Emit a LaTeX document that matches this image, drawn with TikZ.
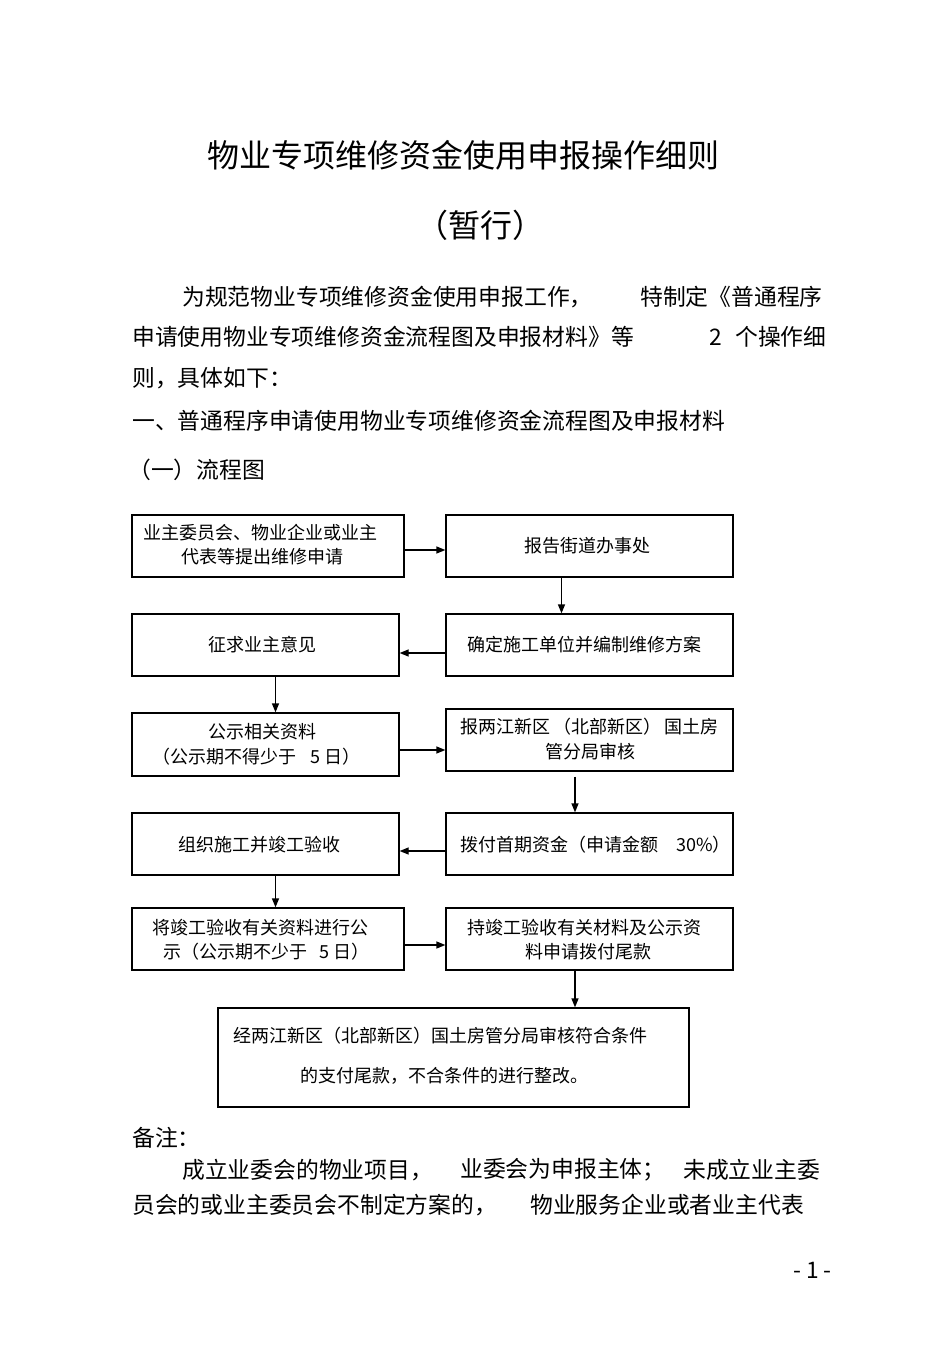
\documentclass[tikz,border=0pt]{standalone}
\usepackage{fontspec}
\setmainfont{Noto Sans CJK SC}
\usetikzlibrary{arrows.meta}
\tikzset{
  box/.style={draw=black, line width=1.3pt, rectangle, inner sep=0pt},
  arr/.style={line width=1.3pt, -{Triangle[length=9pt,width=7pt]}},
  txt/.style={anchor=west, inner sep=0pt, font=\fontsize{18}{22}\selectfont},
  body/.style={anchor=west, inner sep=0pt, font=\fontsize{22.8}{26}\selectfont},
  ttl/.style={inner sep=0pt, font=\fontsize{32}{36}\selectfont}
}
\begin{document}
\begin{tikzpicture}[x=1pt,y=-1pt]
\useasboundingbox[fill=white] (0,0) rectangle (950,1346);

% title
\node[ttl, anchor=west] (title) at (207,155) {物业专项维修资金使用申报操作细则};
\node[ttl] (subtitle) at (480,225) {（暂行）};

% paragraph
\node[body] (p1a) at (182,297) {为规范物业专项维修资金使用申报工作，};
\node[body] (p1b) at (640,297) {特制定《普通程序};
\node[body] (p2a) at (132,337) {申请使用物业专项维修资金流程图及申报材料》等};
\node[body] (p2b) at (709,337) {2};
\node[body] (p2c) at (735,337) {个操作细};
\node[body] (p3) at (132,378) {则，具体如下：};
\node[body] (p4) at (132,421) {一、普通程序申请使用物业专项维修资金流程图及申报材料};
\node[body] (p5) at (128,470) {（一）流程图};

% boxes
\node[box, minimum width=272pt, minimum height=62pt] (a) at (268,546) {};
\node[box, minimum width=287pt, minimum height=62pt] (b) at (589.5,546) {};
\node[box, minimum width=287pt, minimum height=62pt] (c) at (589.5,645) {};
\node[box, minimum width=267pt, minimum height=62pt] (d) at (265.5,645) {};
\node[box, minimum width=267pt, minimum height=63pt] (e) at (265.5,744.5) {};
\node[box, minimum width=287pt, minimum height=62pt] (f) at (589.5,740) {};
\node[box, minimum width=287pt, minimum height=62pt] (g) at (589.5,844) {};
\node[box, minimum width=267pt, minimum height=62pt] (h) at (265.5,844) {};
\node[box, minimum width=272pt, minimum height=62pt] (i) at (268,939) {};
\node[box, minimum width=287pt, minimum height=62pt] (j) at (589.5,939) {};
\node[box, minimum width=471pt, minimum height=99pt] (k) at (453.5,1057.5) {};

% box texts
\node[txt] (a1) at (143,533) {业主委员会、物业企业或业主};
\node[txt] (a2) at (181,557) {代表等提出维修申请};
\node[txt] (b1) at (524,546) {报告街道办事处};
\node[txt] (c1) at (467,645) {确定施工单位并编制维修方案};
\node[txt] (d1) at (208,645) {征求业主意见};
\node[txt] (e1) at (208,732) {公示相关资料};
\node[txt] (e2) at (152,757) {（公示期不得少于\hspace{14pt}5\hspace{4pt}日）};
\node[txt] (f1) at (460,727) {报两江新区\hspace{3pt}（北部新区）\hspace{3pt}国土房};
\node[txt] (f2) at (545,752) {管分局审核};
\node[txt] (g1) at (460,845) {拨付首期资金（申请金额\hspace{18pt}30\%）};
\node[txt] (h1) at (178,845) {组织施工并竣工验收};
\node[txt] (i1) at (152,928) {将竣工验收有关资料进行公};
\node[txt] (i2) at (163,952) {示（公示期不少于\hspace{12pt}5\hspace{4pt}日）};
\node[txt] (j1) at (467,928) {持竣工验收有关材料及公示资};
\node[txt] (j2) at (525,952) {料申请拨付尾款};
\node[txt] (k1) at (233,1036) {经两江新区（北部新区）国土房管分局审核符合条件};
\node[txt] (k2) at (300,1076) {的支付尾款，不合条件的进行整改。};

% arrows
\draw[arr] ([yshift=-4pt]a.east) -- ([yshift=-4pt]a.east -| b.west);
\draw[arr] ([xshift=-28pt]b.south) -- ([xshift=-28pt]c.north);
\draw[arr] ([yshift=-8pt]c.west) -- ([yshift=-8pt]c.west -| d.east);
\draw[arr] ([xshift=10pt]d.south) -- ([xshift=10pt]d.south |- e.north);
\draw[arr] ([yshift=-5.5pt]e.east) -- ([yshift=-5.5pt]e.east -| f.west);
\draw[arr] ([xshift=-14.5pt,yshift=-5pt]f.south) -- ([xshift=-14.5pt]g.north);
\draw[arr] ([yshift=-7pt]g.west) -- ([yshift=-7pt]g.west -| h.east);
\draw[arr] ([xshift=10pt]h.south) -- ([xshift=10pt]h.south |- i.north);
\draw[arr] ([yshift=-6pt]i.east) -- ([yshift=-6pt]i.east -| j.west);
\draw[arr] ([xshift=-14.5pt]j.south) -- ([xshift=-14.5pt]j.south |- k.north);

% notes
\node[body] (n0) at (132,1138) {备注：};
\node[body] (n1a) at (182,1170) {成立业委会的物业项目，};
\node[body] (n1b) at (460,1170) {业委会为申报主体；};
\node[body] (n1c) at (683,1170) {未成立业主委};
\node[body] (n2a) at (132,1205) {员会的或业主委员会不制定方案的，};
\node[body] (n2b) at (530,1205) {物业服务企业或者业主代表};
\node[body] (pg) at (793,1270) {- 1 -};
\end{tikzpicture}
\end{document}
